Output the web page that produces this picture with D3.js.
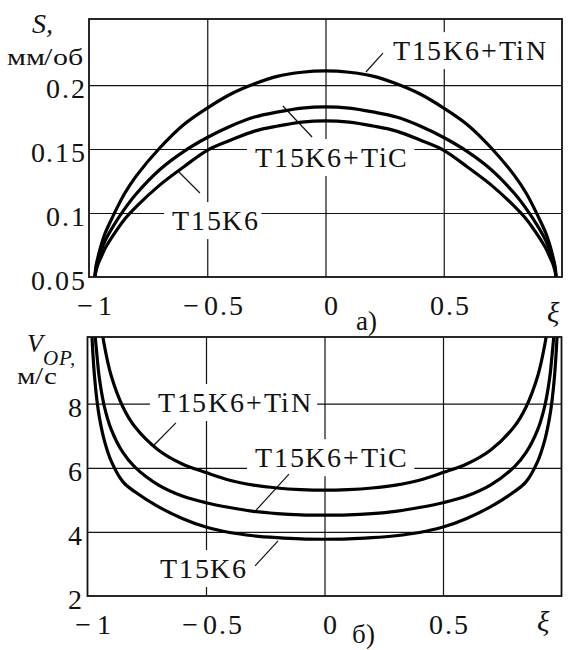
<!DOCTYPE html>
<html>
<head>
<meta charset="utf-8">
<script src="https://cdn.jsdelivr.net/npm/d3@7"></script>
<style>
  @font-face { font-family: "PlotSerif"; font-style: normal; src: local("Liberation Serif"), local("LiberationSerif"); }
  @font-face { font-family: "PlotSerif"; font-style: italic; src: local("Liberation Serif Italic"), local("LiberationSerif-Italic"); }
</style>
</head>
<body style="margin:0;background:#fff">
<svg id="fig" width="568" height="650" style="display:block"></svg>
<script>
// ---------- data ----------
const xTickValues = [-1, -0.5, 0, 0.5];
const xTickLabels = ["\u2212\u200A1", "\u2212\u200A0.5", "0", "0.5"];

const sTickValues = [0.05, 0.1, 0.15, 0.2];
const sTickLabels = ["0.05", "0.1", "0.15", "0.2"];
const vTickValues = [2, 4, 6, 8];
const vTickLabels = ["2", "4", "6", "8"];

const seriesNames = ["T15K6", "T15K6+TiC", "T15K6+TiN"];

// feed S (mm/rev) versus ξ
const sXi    = [-0.975, -0.97, -0.96, -0.95, -0.93, -0.9, -0.85, -0.8, -0.7, -0.6, -0.5, -0.4, -0.3, -0.2, -0.1, 0,
                 0.1, 0.2, 0.3, 0.4, 0.5, 0.6, 0.7, 0.8, 0.85, 0.9, 0.93, 0.95, 0.96, 0.97, 0.975];
const sT15K6 = [0.050, 0.055, 0.061, 0.065, 0.073, 0.082, 0.095, 0.105, 0.122, 0.136, 0.149, 0.157, 0.164, 0.168, 0.171, 0.172,
                0.171, 0.168, 0.164, 0.157, 0.149, 0.136, 0.122, 0.105, 0.095, 0.082, 0.073, 0.065, 0.061, 0.055, 0.050];
const sTiC   = [0.050, 0.057, 0.064, 0.070, 0.079, 0.089, 0.103, 0.115, 0.134, 0.148, 0.159, 0.168, 0.175, 0.179, 0.182, 0.183,
                0.182, 0.179, 0.175, 0.168, 0.159, 0.148, 0.134, 0.115, 0.103, 0.089, 0.079, 0.070, 0.064, 0.057, 0.050];
const sTiN   = [0.050, 0.059, 0.067, 0.074, 0.085, 0.097, 0.115, 0.129, 0.151, 0.169, 0.182, 0.193, 0.201, 0.207, 0.210, 0.211,
                0.210, 0.207, 0.201, 0.193, 0.182, 0.169, 0.151, 0.129, 0.115, 0.097, 0.085, 0.074, 0.067, 0.059, 0.050];

// cutting speed V_OP (m/s) versus ξ
const vT15K6Xi = [-0.985, -0.98, -0.97, -0.96, -0.95, -0.93, -0.9, -0.85, -0.8, -0.7, -0.6, -0.5, -0.4, -0.3, -0.2, -0.1, 0,
                   0.1, 0.2, 0.3, 0.4, 0.5, 0.6, 0.7, 0.8, 0.85, 0.9, 0.93, 0.95, 0.96, 0.97, 0.98, 0.985];
const vT15K6   = [10.8, 9.93, 8.81, 8.09, 7.58, 6.88, 6.21, 5.56, 5.25, 4.78, 4.42, 4.15, 3.98, 3.88, 3.82, 3.78, 3.77,
                  3.78, 3.82, 3.88, 3.98, 4.15, 4.42, 4.78, 5.25, 5.56, 6.21, 6.88, 7.58, 8.09, 8.81, 9.93, 10.8];
const vTiCXi   = [-0.97, -0.96, -0.95, -0.93, -0.9, -0.85, -0.8, -0.7, -0.6, -0.5, -0.4, -0.3, -0.2, -0.1, 0,
                   0.1, 0.2, 0.3, 0.4, 0.5, 0.6, 0.7, 0.8, 0.85, 0.9, 0.93, 0.95, 0.96, 0.97];
const vTiC     = [10.3, 9.5, 8.8, 7.95, 7.2, 6.47, 6.02, 5.46, 5.12, 4.91, 4.76, 4.64, 4.57, 4.53, 4.52,
                  4.53, 4.57, 4.64, 4.76, 4.91, 5.12, 5.46, 6.02, 6.47, 7.2, 7.95, 8.8, 9.5, 10.3];
const vTiNXi   = [-0.945, -0.93, -0.9, -0.85, -0.8, -0.7, -0.6, -0.5, -0.4, -0.3, -0.2, -0.1, 0,
                   0.1, 0.2, 0.3, 0.4, 0.5, 0.6, 0.7, 0.8, 0.85, 0.9, 0.93, 0.945];
const vTiN     = [10.6, 9.86, 8.87, 7.89, 7.28, 6.55, 6.12, 5.85, 5.61, 5.46, 5.37, 5.32, 5.30,
                  5.32, 5.37, 5.46, 5.61, 5.85, 6.12, 6.55, 7.28, 7.89, 8.87, 9.86, 10.6];

// ---------- layout ----------
const FAMILY = '"PlotSerif", "Liberation Serif", serif';
const FONT = 28, SPACING = 1.8;
const svg = d3.select("#fig");

function styleText(sel, size, extra) {
  sel.style("font-family", FAMILY).style("font-size", size + "px").attr("fill", "#111");
  if (extra) Object.entries(extra).forEach(([k, v]) => sel.style(k, v));
  return sel;
}

const panels = [
  {
    id: "a",
    xRange: [89, 562], yDomain: [0.05, 0.2516], yRange: [277, 19],
    yTicks: sTickValues, yLabels: sTickLabels, yLabelGap: 4,
    series: [[sXi, sT15K6], [sXi, sTiC], [sXi, sTiN]],
    notes: [
      { name: seriesNames[2], at: [0.285, 0.2195], lead: [[0.243, 0.225], [0.171, 0.2102]] },
      { name: seriesNames[1], at: [-0.298, 0.136], lead: [[-0.057, 0.1594], [-0.180, 0.1836]] },
      { name: seriesNames[0], at: [-0.649, 0.0867], lead: [[-0.531, 0.1156], [-0.624, 0.1328]] }
    ],
    tag: "а)", tagXY: [356, 330], xiXY: [547, 322]
  },
  {
    id: "b",
    xRange: [87.5, 561.5], yDomain: [2, 10.08], yRange: [596, 337],
    yTicks: vTickValues, yLabels: vTickLabels, yLabelGap: 6,
    series: [[vT15K6Xi, vT15K6], [vTiCXi, vTiC], [vTiNXi, vTiN]],
    notes: [
      { name: seriesNames[2], at: [-0.703, 7.74], lead: [[-0.627, 7.40], [-0.719, 6.71]] },
      { name: seriesNames[1], at: [-0.293, 6.02], lead: [[-0.150, 5.80], [-0.293, 4.64]] },
      { name: seriesNames[0], at: [-0.694, 2.56], lead: [[-0.293, 2.94], [-0.196, 3.72]] }
    ],
    tag: "б)", tagXY: [352, 643], xiXY: [537, 631]
  }
];

panels.forEach(p => {
  const x = d3.scaleLinear().domain([-1, 1]).range(p.xRange);
  const y = d3.scaleLinear().domain(p.yDomain).range(p.yRange);
  const [x0, x1] = p.xRange;
  const [yb, yt] = p.yRange;
  const g = svg.append("g");

  g.append("clipPath").attr("id", "clip-" + p.id)
    .append("rect").attr("x", x0).attr("y", yt).attr("width", x1 - x0).attr("height", yb - yt);

  // grid
  const gx = g.append("g").attr("transform", `translate(0,${yb})`)
    .call(d3.axisBottom(x).tickValues(xTickValues.filter(v => v > -1)).tickSize(-(yb - yt)).tickFormat(""));
  gx.select(".domain").remove();
  gx.selectAll("line").attr("stroke", "#111").attr("stroke-width", 1.2);

  const gy = g.append("g").attr("transform", `translate(${x0},0)`)
    .call(d3.axisLeft(y).tickValues(p.yTicks.filter(v => v > p.yDomain[0])).tickSize(-(x1 - x0)).tickFormat(""));
  gy.select(".domain").remove();
  gy.selectAll("line").attr("stroke", "#111").attr("stroke-width", 1.2);

  // tick labels
  const lx = g.append("g").attr("transform", `translate(0,${yb})`)
    .call(d3.axisBottom(x).tickValues(xTickValues).tickFormat((d, i) => xTickLabels[i]).tickSize(0));
  lx.attr("font-family", FAMILY).attr("font-size", null);
  lx.select(".domain").remove();
  styleText(lx.selectAll("text").attr("y", 38).attr("dy", null).attr("dx", 6),
            FONT, { "letter-spacing": SPACING + "px" });

  const ly = g.append("g").attr("transform", `translate(${x0},0)`)
    .call(d3.axisLeft(y).tickValues(p.yTicks).tickFormat((d, i) => p.yLabels[i]).tickSize(0));
  ly.attr("font-family", FAMILY).attr("font-size", null);
  ly.select(".domain").remove();
  styleText(ly.selectAll("text").attr("x", -p.yLabelGap + SPACING).attr("y", 12.5).attr("dy", null),
            FONT, { "letter-spacing": SPACING + "px" });

  // annotations on white backing; backing sized from the label length
  p.notes.forEach(n => {
    const tx = x(n.at[0]), ty = y(n.at[1]);
    const w = n.name.length * (0.56 * FONT + SPACING);
    g.append("rect")
      .attr("x", tx - 8).attr("y", ty - 0.891 * FONT - 3)
      .attr("width", w + 10).attr("height", 1.107 * FONT + 6)
      .attr("fill", "#fff");
    styleText(g.append("text").attr("x", tx).attr("y", ty).text(n.name),
              FONT, { "letter-spacing": SPACING + "px" });
    g.append("line")
      .attr("x1", x(n.lead[0][0])).attr("y1", y(n.lead[0][1]))
      .attr("x2", x(n.lead[1][0])).attr("y2", y(n.lead[1][1]))
      .attr("stroke", "#111").attr("stroke-width", 1.2);
  });

  // curves
  const line = d3.line().x(d => x(d[0])).y(d => y(d[1])).curve(d3.curveCatmullRom.alpha(0.5));
  g.append("g").attr("clip-path", `url(#clip-${p.id})`)
    .selectAll("path").data(p.series).join("path")
    .attr("d", s => line(s[0].map((v, i) => [v, s[1][i]])))
    .attr("fill", "none").attr("stroke", "#000").attr("stroke-width", 3.2)
    .attr("stroke-linejoin", "round");

  // frame
  g.append("rect").attr("x", x0).attr("y", yt).attr("width", x1 - x0).attr("height", yb - yt)
    .attr("fill", "none").attr("stroke", "#111").attr("stroke-width", 1.8);

  // panel tag and ξ
  styleText(g.append("text").attr("x", p.tagXY[0]).attr("y", p.tagXY[1]).text(p.tag), 27);
  styleText(g.append("text").attr("x", p.xiXY[0]).attr("y", p.xiXY[1]).text("ξ"), 29,
            { "font-style": "italic" });
});

// axis titles
styleText(svg.append("text").attr("x", 32).attr("y", 33).text("S,"), 28, { "font-style": "italic" });
styleText(svg.append("text").attr("x", 7).attr("y", 65)
  .attr("textLength", 76).attr("lengthAdjust", "spacingAndGlyphs").text("мм/об"), 24);

const vt = styleText(svg.append("text").attr("x", 27).attr("y", 352), 26);
vt.append("tspan").style("font-style", "italic").text("V");
vt.append("tspan").attr("dy", 13).style("font-size", "21px").style("font-style", "italic")
  .style("letter-spacing", "1px").text("OP,");
styleText(svg.append("text").attr("x", 17).attr("y", 384)
  .attr("textLength", 40).attr("lengthAdjust", "spacingAndGlyphs").text("м/с"), 24);
</script>
</body>
</html>
